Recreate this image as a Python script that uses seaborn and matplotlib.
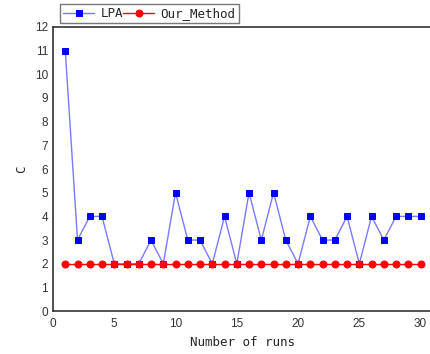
import pandas as pd
import matplotlib.pyplot as plt
import seaborn as sns

# values
runs = list(range(1, 31))
lpa = [11, 3, 4, 4, 2, 2, 2, 3, 2, 5, 3, 3, 2, 4, 2,
       5, 3, 5, 3, 2, 4, 3, 3, 4, 2, 4, 3, 4, 4, 4]
ours = [2] * 30

df = pd.DataFrame({'run': runs, 'LPA': lpa, 'Our_Method': ours})

sns.set_style('white')
plt.rcParams['font.family'] = ['Liberation Sans', 'DejaVu Sans']

fig = plt.figure(figsize=(4.31, 3.54), dpi=100)
ax = fig.add_axes([0.123, 0.121, 0.877, 0.803])

sns.lineplot(data=df, x='run', y='LPA', ax=ax, color='#7a7aff', lw=1,
             marker='s', markersize=4.2, markerfacecolor='blue',
             markeredgecolor='blue', label='LPA')
sns.lineplot(data=df, x='run', y='Our_Method', ax=ax, color='red', lw=1,
             marker='o', markersize=5, markerfacecolor='red',
             markeredgecolor='red', label='Our_Method')

ax.set_xlim(0, 30.85)
ax.set_ylim(0, 12)
ax.set_xticks(range(0, 31, 5))
ax.set_xticks([x + 2.5 for x in range(0, 30, 5)], minor=True)
ax.set_yticks(range(0, 13))
ax.tick_params(direction='in', length=4, width=0.8, labelsize=8.5,
               color='#333333', labelcolor='#333333')
ax.tick_params(which='minor', direction='in', length=2.5, width=0.8, color='#333333')
ax.tick_params(axis='x', pad=5)
for s in ['left', 'bottom', 'top']:
    ax.spines[s].set_color('#333333')
    ax.spines[s].set_linewidth(1.2)
ax.spines['right'].set_visible(False)

ax.set_xlabel('Number of runs', family='DejaVu Sans Mono', fontsize=9)
ax.set_ylabel('C', family='DejaVu Sans Mono', fontsize=9, labelpad=5)

leg = ax.legend(loc='lower left', bbox_to_anchor=(0.0185, 1.012), borderaxespad=0,
                ncol=2, frameon=True, fancybox=False, edgecolor='#555555',
                handlelength=2.5, columnspacing=0.0, handletextpad=0.5,
                borderpad=0.25, prop={'family': 'DejaVu Sans Mono', 'size': 9})
leg.get_frame().set_linewidth(1)

fig.savefig('out.png', dpi=100)
